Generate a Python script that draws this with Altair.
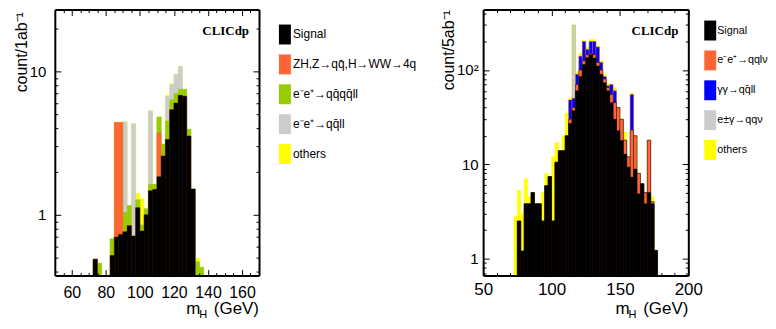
import altair as alt
import pandas as pd

# ---------------- data: left panel (stack tops per bin, 2.5 GeV bins) -------------
left_lo = [70.0, 72.5, 75.0, 77.5, 80.0, 82.5, 85.0, 87.5, 90.0, 92.5, 95.0, 97.5,
           100.0, 102.5, 105.0, 107.5, 110.0, 112.5, 115.0, 117.5, 120.0, 122.5,
           125.0, 127.5, 130.0, 132.5, 135.0, 137.5]
left_signal = [0, 0.49, 0, 0, 0, 0.52, 0.70, 0.73, 0.76, 0.84, 0.71, 1.12,
               0.77, 1.0, 1.47, 1.5, 1.84, 2.57, 3.35, 5.4, 6.0, 6.8,
               6.7, 3.54, 1.51, 0, 0, 0]
left_zh = [0, 0.49, 0, 0, 0, 0.52, 4.4, 4.4, 0.76, 0.84, 0.71, 1.12,
           0.77, 1.0, 1.47, 1.5, 3.73, 2.57, 3.35, 5.4, 6.0, 6.8,
           6.7, 3.54, 1.51, 0, 0, 0]
left_qqqqll = [0, 0.49, 0.46, 0, 0, 0.68, 4.4, 4.4, 1.04, 1.16, 0.71, 1.27,
               0.85, 1.1, 1.63, 1.63, 4.8, 3.1, 4.5, 6.35, 7.0, 7.5,
               7.5, 3.94, 1.51, 0.47, 0.43, 0]
left_qqll = [0, 0.49, 0.46, 0, 0, 0.68, 4.4, 4.4, 4.45, 1.16, 4.3, 1.27,
             0.85, 1.1, 5.3, 1.63, 4.8, 3.1, 6.7, 8.1, 9.5, 10.8,
             7.5, 3.94, 1.51, 0.47, 0.43, 0]
left_others = [0, 0.49, 0.46, 0, 0, 0.68, 4.4, 4.4, 4.45, 1.16, 4.3, 1.41,
               1.3, 1.1, 5.3, 1.63, 4.8, 3.1, 6.8, 8.2, 9.5, 10.8,
               7.5, 3.94, 1.51, 0.5, 0.43, 0]
left_names = ["Signal", "ZH,Z→qq̄,H→WW→4q", "e⁻e⁺→qq̄qq̄ll", "e⁻e⁺→qq̄ll", "others"]

# ---------------- data: right panel (stack tops per bin) ----------------
right_lo = [72.5, 75.0, 77.5, 80.0, 82.5, 85.0, 87.5, 90.0, 92.5, 95.0, 97.5,
            100.0, 102.5, 105.0, 107.5, 110.0, 112.5, 115.0, 117.5, 120.0, 122.5,
            125.0, 127.5, 130.0, 132.5, 135.0, 137.5, 140.0, 142.5, 145.0, 147.5,
            150.0, 152.5, 155.0, 157.5, 160.0, 162.5, 165.0, 167.5, 170.0, 172.5, 175.0]
right_signal = [0, 2.5, 1.2, 3.8, 3.8, 5.0, 3.8, 3.8, 2.5, 5.9, 7.4,
                2.5, 10.5, 13.9, 13.9, 20, 27, 37, 60, 85, 114,
                135, 146, 134, 110, 90, 73, 60, 45, 30, 22.7,
                17.8, 12.8, 9.3, 7.3, 8.9, 4.85, 6.2, 3.8, 5.0, 3.8, 1.22]
right_qqlv = [0, 2.5, 1.2, 3.8, 3.8, 5.0, 3.8, 3.8, 2.5, 5.9, 7.4,
              2.5, 10.5, 13.9, 13.9, 20, 30, 40, 70, 100, 125,
              145, 150, 145, 120, 100, 80, 65, 55, 45, 40,
              30, 18, 12, 23, 20, 8, 6.2, 5, 18, 4, 1.22]
right_qqll = [0, 2.5, 1.2, 3.8, 3.8, 5.0, 3.8, 3.8, 2.5, 5.9, 7.4,
              2.5, 10.5, 13.9, 13.9, 20, 48, 50, 90, 140, 200,
              165, 200, 200, 175, 120, 85, 68, 70, 60, 40,
              30, 18, 12, 55, 20, 8, 6.2, 5, 18, 4, 1.22]
right_qqv = [0, 2.5, 1.2, 3.8, 3.8, 5.0, 3.8, 3.8, 2.5, 5.9, 7.4,
             2.5, 10.5, 13.9, 13.9, 20, 48, 300, 90, 140, 200,
             165, 200, 200, 175, 120, 85, 68, 70, 60, 40,
             30, 18, 12, 55, 20, 8, 6.2, 5, 18, 4, 1.22]
right_others = [2.8, 5.3, 3.0, 7.0, 4.5, 5.0, 3.8, 3.8, 5.0, 8.0, 7.4,
                12, 17, 13.9, 20, 35, 50, 300, 95, 150, 205,
                175, 210, 210, 180, 125, 90, 72, 70, 65, 40,
                30, 22, 12, 57, 20, 8, 6.2, 5, 18, 4.5, 1.22]
right_names = ["Signal", "e⁻e⁺→qqlν", "γγ→qq̄ll", "e±γ→qqν", "others"]

BIN = 2.5
FONT = "Liberation Sans"


def stack_frame(lo, tops, names):
    rows = []
    n = len(names)
    for k, (name, arr) in enumerate(zip(names, tops)):
        for s, v in zip(lo, arr):
            if v > 0:
                rows.append({"lo": s, "hi": s + BIN, "level": v, "comp": name, "z": n - k})
    return pd.DataFrame(rows)


def tick_axis(orient, values, size, offset, domain):
    return alt.Axis(orient=orient, values=values, tickSize=size, offset=offset, labels=False,
                    title=None, domain=domain, domainColor="black", domainWidth=2,
                    ticks=True, tickColor="black", tickWidth=1, zindex=2)


def panel(df, names, colors, xdom, xmaj, xmin, ydom, ymaj, ymin, ytitle, xlabsize,
          xlabpad, ylabpad, ytitley, W, H, legx, legy, lab_expr, legfs, legoff):
    xsc = alt.Scale(domain=xdom, nice=False, zero=False)
    ysc = alt.Scale(type="log", domain=ydom, nice=False)

    bars = alt.Chart(df).mark_rect(clip=True, strokeWidth=0.4).encode(
        x=alt.X("lo:Q", scale=xsc,
                axis=alt.Axis(orient="bottom", values=xmaj, ticks=False, domain=False,
                              labelPadding=xlabpad, labelFlush=False,
                              labelFontSize=xlabsize, title=None, format="d")),
        x2="hi:Q",
        y=alt.Y("level:Q", scale=ysc, stack=None,
                axis=alt.Axis(orient="left", values=ymaj, ticks=False, domain=False,
                              labelPadding=ylabpad, labelFlush=False,
                              labelExpr=lab_expr, title=ytitle, titleAngle=270,
                              titleAlign="right", titleBaseline="bottom", titleY=ytitley,
                              titlePadding=0, titleFontSize=16)),
        y2=alt.value(H),
        color=alt.Color("comp:N", scale=alt.Scale(domain=names, range=colors),
                        legend=alt.Legend(title=None, orient="none", legendX=legx, legendY=legy,
                                          symbolType="M-1,-1.667H1V1.667H-1Z", symbolSize=144,
                                          symbolStrokeWidth=0, symbolOpacity=1, labelOffset=legoff,
                                          rowPadding=8, labelLimit=400, labelFontSize=legfs)),
        stroke=alt.Color("comp:N", scale=alt.Scale(domain=names, range=colors), legend=None),
        order=alt.Order("z:Q"),
    )

    def ghost(xorient, xvals, yorient, yvals, size, domain):
        return alt.Chart(df).mark_point(opacity=0).encode(
            x=alt.X("lo:Q", scale=xsc, axis=tick_axis(xorient, xvals, size, -H, domain)),
            y=alt.Y("level:Q", scale=ysc, axis=tick_axis(yorient, yvals, size, -W, domain)),
        )

    g1 = ghost("top", xmaj, "right", ymaj, 6, True)      # bottom edge / left edge, inward
    g2 = ghost("top", xmin, "right", ymin, 3, False)
    g3 = ghost("bottom", xmaj, "left", ymaj, 6, True)    # top edge / right edge, inward
    g4 = ghost("bottom", xmin, "left", ymin, 3, False)

    one = pd.DataFrame({"k": [0]})
    logo = alt.Chart(one).mark_text(font="Liberation Serif", fontWeight="bold", fontSize=13,
                                    align="right", baseline="alphabetic").encode(
        x=alt.value(W - 10), y=alt.value(25), text=alt.value("CLICdp"))
    t_m = alt.Chart(one).mark_text(font=FONT, fontSize=17, align="left", baseline="alphabetic").encode(
        x=alt.value(W - 73), y=alt.value(H + 39), text=alt.value("m"))
    t_h = alt.Chart(one).mark_text(font=FONT, fontSize=11, align="left", baseline="alphabetic").encode(
        x=alt.value(W - 60), y=alt.value(H + 43), text=alt.value("H"))
    t_g = alt.Chart(one).mark_text(font=FONT, fontSize=17, align="right", baseline="alphabetic").encode(
        x=alt.value(W), y=alt.value(H + 39), text=alt.value("(GeV)"))
    return alt.layer(bars, g1, g2, g3, g4, logo, t_m, t_h, t_g).resolve_axis(
        x="independent", y="independent").properties(width=W, height=H)


left_tops = [left_signal, left_zh, left_qqqqll, left_qqll, left_others]
right_tops = [right_signal, right_qqlv, right_qqll, right_qqv, right_others]
left_colors = ["#000000", "#ff6633", "#99cc00", "#cccccc", "#ffff00"]
right_colors = ["#000000", "#ff6633", "#0000ff", "#cccccc", "#ffff00"]

left = panel(stack_frame(left_lo, left_tops, left_names), left_names, left_colors,
             [50, 170], [60, 80, 100, 120, 140, 160],
             [55, 65, 70, 75, 85, 90, 95, 105, 110, 115, 125, 130, 135, 145, 150, 155, 165],
             [0.377, 26.9], [1, 10], [0.4, 0.5, 0.6, 0.7, 0.8, 0.9, 2, 3, 4, 5, 6, 7, 8, 9, 20],
             "count/1ab⁻¹", 16, 9, 9, 2, 205, 267, 225, 19, "datum.label", 12, 2)
right = panel(stack_frame(right_lo, right_tops, right_names), right_names, right_colors,
              [50, 200], [50, 100, 150, 200],
              [60, 70, 80, 90, 110, 120, 130, 140, 160, 170, 180, 190],
              [0.66, 436], [1, 10, 100],
              [0.7, 0.8, 0.9, 2, 3, 4, 5, 6, 7, 8, 9, 20, 30, 40, 50, 60, 70, 80, 90, 200, 300, 400],
              "count/5ab⁻¹", 17, 6, 5, 0, 206, 267, 222, 15,
              "datum.value == 100 ? '10²' : datum.value == 10 ? '10' : '1'", 10.8, 1)

chart = alt.hconcat(left, right, spacing=23).resolve_scale(color="independent").properties(
    padding={"left": 5, "top": 0, "right": 0, "bottom": 0}
).configure_view(stroke=None).configure_axis(
    labelFont=FONT, titleFont=FONT, labelFontSize=15, labelColor="black", titleColor="black",
    titleFontWeight="normal", grid=False
).configure_legend(labelFont=FONT, labelColor="black")

chart.save("out.html", embed_options={"renderer": "svg", "actions": False})
